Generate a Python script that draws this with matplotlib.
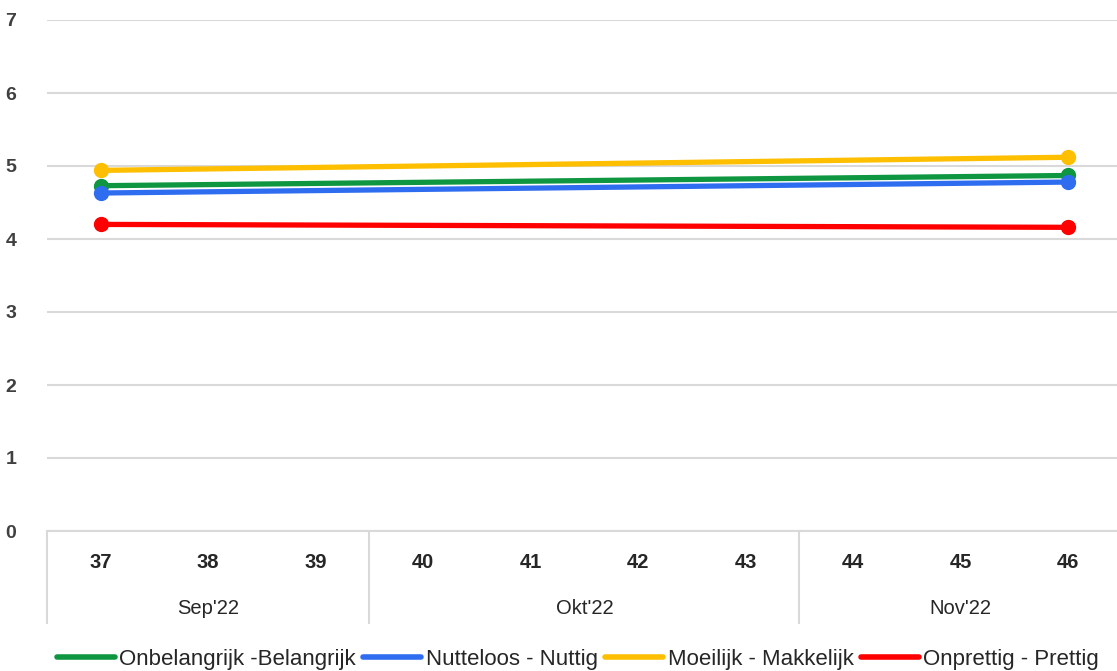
import matplotlib.pyplot as plt
import matplotlib.transforms as mtransforms
import numpy as np

plt.rcParams['font.family'] = ['Liberation Sans', 'DejaVu Sans']

weeks = ["37", "38", "39", "40", "41", "42", "43", "44", "45", "46"]
months = ["Sep'22", "Okt'22", "Nov'22"]
month_spans = [(0, 2), (3, 6), (7, 9)]

nan = np.nan
belangrijk = [4.73, nan, nan, nan, nan, nan, nan, nan, nan, 4.87]
nuttig = [4.63, nan, nan, nan, nan, nan, nan, nan, nan, 4.78]
makkelijk = [4.94, nan, nan, nan, nan, nan, nan, nan, nan, 5.12]
prettig = [4.20, nan, nan, nan, nan, nan, nan, nan, nan, 4.16]

series = [
    ("Onbelangrijk -Belangrijk", belangrijk, "#0f9640"),
    ("Nutteloos - Nuttig", nuttig, "#2f6df0"),
    ("Moeilijk - Makkelijk", makkelijk, "#fdbf00"),
    ("Onprettig - Prettig", prettig, "#fe0000"),
]

W, H = 1117, 671
fig = plt.figure(figsize=(W / 100, H / 100), dpi=100)
ax = fig.add_axes([47 / W, 1 - 531 / H, 1 - 47 / W, (531 - 20) / H])

x = np.arange(len(weeks))
for name, vals, col in series:
    v = np.array(vals, dtype=float)
    ok = ~np.isnan(v)
    ax.plot(x[ok], v[ok], color=col, lw=3.8, marker="o", ms=10,
            solid_capstyle="round", label=name, zorder=3)

ax.set_ylim(0, 7)
ax.set_yticks(range(0, 8))
ax.set_xlim(-0.5, 9.5 - 4.7 / 107.4)
ax.set_xticks([])
ax.grid(axis="y", color="#d9d9d9", lw=1.5)
ax.set_axisbelow(True)
for s in ["top", "right", "left"]:
    ax.spines[s].set_visible(False)
ax.spines["bottom"].set_color("#d9d9d9")
ax.spines["bottom"].set_linewidth(1.5)
ax.tick_params(axis="y", length=0, pad=22, labelsize=14, labelcolor="#404040")
for lab in ax.get_yticklabels():
    lab.set_fontweight("bold")

# category axis: weeks, month groups and separators
trans = mtransforms.blended_transform_factory(ax.transData, ax.transAxes)
ph = 511.0
for i, w in enumerate(weeks):
    ax.text(i, -31 / ph, w, transform=trans, ha="center", va="center",
            fontsize=14.5, fontweight="bold", color="#262626")
for m, (a, b) in zip(months, month_spans):
    ax.text((a + b) / 2, -78 / ph, m, transform=trans, ha="center", va="center",
            fontsize=14.5, color="#262626")
for sep in [-0.5, 2.5, 6.5]:
    ax.plot([sep, sep], [0, -92 / ph], transform=trans, color="#d9d9d9",
            lw=1.5, clip_on=False)

handles, labels = ax.get_legend_handles_labels()
leg = fig.legend(handles, labels, loc="center", bbox_to_anchor=(578 / W, 1 - 659 / H),
                 ncol=4, frameon=False, fontsize=16, handlelength=2.6,
                 handletextpad=0.2, columnspacing=0.35, borderaxespad=0)
for h in leg.legend_handles:
    h.set_marker("")
    h.set_linewidth(4)
for t in leg.get_texts():
    t.set_color("#262626")

fig.savefig("out.png", dpi=100)
